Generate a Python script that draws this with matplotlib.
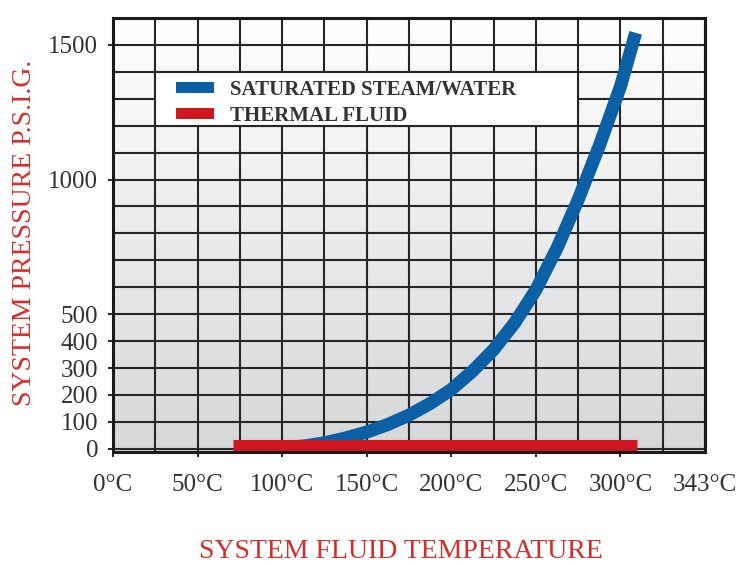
import matplotlib
matplotlib.use('Agg')
import matplotlib.pyplot as plt
import numpy as np
from matplotlib.patches import Patch, Rectangle
from matplotlib.colors import LinearSegmentedColormap

# values
temp_c = [75, 87.5, 100, 112.5, 125, 137.5, 150, 162.5, 175, 187.5, 200,
          212.5, 225, 237.5, 250, 262.5, 275, 287.5, 300, 309]
steam_psig = [0, 1, 4, 10, 22, 40, 62, 90, 125, 168, 220,
              288, 368, 468, 590, 745, 925, 1125, 1345, 1545]
thermal_temp_c = [71, 310]
thermal_psig = [14, 14]

x_ticks = [0, 50, 100, 150, 200, 250, 300, 350]
x_tick_labels = ['0°C', '50°C', '100°C', '150°C', '200°C', '250°C', '300°C', '343°C']
y_ticks = [0, 100, 200, 300, 400, 500, 1000, 1500]
legend_labels = ['SATURATED STEAM/WATER', 'THERMAL FLUID']

BLUE = '#0a5fa5'
RED = '#d0161f'
TITLE_RED = '#d42e2c'
GRID = '#262626'
TEXT = '#333333'

plt.rcParams['font.family'] = ['Liberation Serif', 'DejaVu Serif']

W, H = 749, 565
fig = plt.figure(figsize=(W / 100, H / 100), dpi=100)
ax = fig.add_axes([113 / W, 1 - 452 / H, 592 / W, 434 / H])

# grey-to-white background
grad = np.linspace(0, 1, 256).reshape(-1, 1)
cmap = LinearSegmentedColormap.from_list('bg', ['#d6d7d9', '#ffffff'])
ax.imshow(grad, cmap=cmap, extent=[0, 350, -12, 1600], aspect='auto',
          origin='lower', zorder=0)
ax.set_xlim(0, 350)
ax.set_ylim(-12, 1600)

ax.set_xticks(x_ticks)
ax.set_xticklabels(x_tick_labels)
ax.set_yticks(y_ticks)

# grid (every 25 °C / 100 psi)
ax.set_xticks(np.arange(0, 351, 25), minor=True)
ax.set_yticks(np.arange(0, 1601, 100), minor=True)
ax.set_axisbelow(True)
ax.grid(which='both', color=GRID, lw=1.5)
ax.tick_params(which='minor', length=0)

ax.tick_params(which='major', direction='out', length=3.6, width=1.4,
               color=GRID, labelcolor=TEXT, labelsize=18)
ax.tick_params(axis='x', pad=12)
ax.tick_params(axis='y', pad=7)
ax.xaxis.get_major_ticks()[-1].tick1line.set_visible(False)

# legend box sits on the grid
ax.add_patch(Rectangle((25, 1200), 250, 200, facecolor='white',
                       edgecolor=GRID, lw=1.5, zorder=1))

ax.plot(temp_c, steam_psig, color=BLUE, lw=9.4, solid_capstyle='butt',
        solid_joinstyle='round', zorder=3)
ax.plot(thermal_temp_c, thermal_psig, color=RED, lw=8,
        solid_capstyle='butt', zorder=4)

for s in ax.spines.values():
    s.set_linewidth(2.2)
    s.set_color('#1a1a1a')
    s.set_zorder(5)

handles = [Patch(facecolor=BLUE), Patch(facecolor=RED)]
leg = ax.legend(handles, legend_labels, loc='upper left',
                bbox_to_anchor=(176 / W, 1 - 80 / H), bbox_transform=fig.transFigure,
                frameon=False, borderpad=0, borderaxespad=0,
                handlelength=1.8, handleheight=0.48, handletextpad=0.8,
                labelspacing=0.28,
                prop={'size': 15, 'weight': 'bold'})
for t in leg.get_texts():
    t.set_color(TEXT)

fig.text(25 / W, 1 - 233 / H, 'SYSTEM PRESSURE P.S.I.G.', rotation=90,
         ha='center', va='center', color=TITLE_RED, fontsize=20)
fig.text(401 / W, 1 - 551 / H, 'SYSTEM FLUID TEMPERATURE',
         ha='center', va='center', color=TITLE_RED, fontsize=20)

fig.savefig('out.png', dpi=100)
